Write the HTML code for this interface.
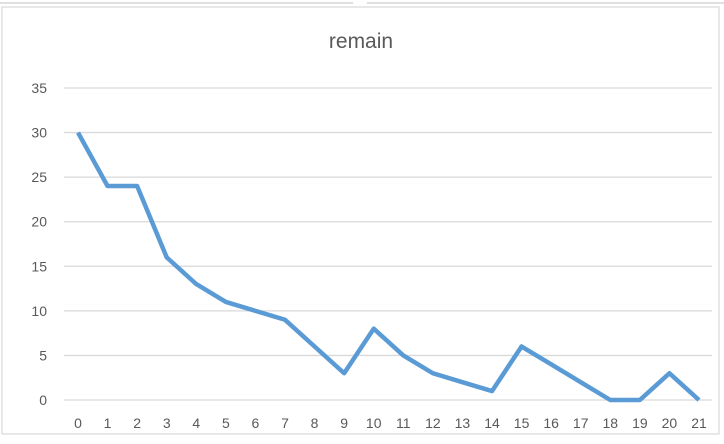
<!DOCTYPE html>
<html><head><meta charset="utf-8"><style>
body{margin:0;background:#fff;width:724px;height:439px;overflow:hidden;font-family:"Liberation Sans",sans-serif}
</style></head><body>
<svg width="724" height="439">
<rect x="0" y="0" width="724" height="439" fill="#fff"/>
<g stroke="#c0c0c0">
<line x1="0" y1="3" x2="353" y2="3"/><line x1="367" y1="3" x2="724" y2="3"/>
</g>
<rect x="2" y="7" width="717" height="427" fill="#fff" stroke="#d0d0d0"/>
<text x="361" y="48" text-anchor="middle" font-size="21" fill="#595959">remain</text>
<g id="grid"></g>
<g id="yl"></g>
<g id="xl"></g>
<polyline id="line" fill="none" stroke="#5b9bd5" stroke-width="4.5" stroke-linejoin="round"/>
</svg>
<script>
const categories=[0,1,2,3,4,5,6,7,8,9,10,11,12,13,14,15,16,17,18,19,20,21];
const remain=[30,24,24,16,13,11,10,9,6,3,8,5,3,2,1,6,4,2,0,0,3,0];
const yTicks=[0,5,10,15,20,25,30,35];
const ns='http://www.w3.org/2000/svg';
const y=v=>400-v*(312/35);
const x=i=>78+i*(621/21);
const grid=document.getElementById('grid'),yl=document.getElementById('yl'),xl=document.getElementById('xl');
yTicks.forEach(t=>{
 const l=document.createElementNS(ns,'line');
 
 
 l.setAttribute('x1',64);l.setAttribute('x2',712);l.setAttribute('y1',y(t));l.setAttribute('y2',y(t));
 l.setAttribute('stroke','#d9d9d9');l.setAttribute('stroke-width','1.3');grid.appendChild(l);
 const tx=document.createElementNS(ns,'text');
 
 
 tx.setAttribute('x',47);tx.setAttribute('y',y(t)+5);tx.setAttribute('text-anchor','end');
 tx.setAttribute('font-size','14');tx.setAttribute('fill','#595959');tx.textContent=t;yl.appendChild(tx);
});
categories.forEach((c,i)=>{
 const tx=document.createElementNS(ns,'text');
 
 
 tx.setAttribute('x',x(i));tx.setAttribute('y',428);tx.setAttribute('text-anchor','middle');
 tx.setAttribute('font-size','14');tx.setAttribute('fill','#595959');tx.textContent=c;xl.appendChild(tx);
});
document.getElementById('line').setAttribute('points',remain.map((v,i)=>x(i)+','+y(v)).join(' '));
</script>
</body></html>
